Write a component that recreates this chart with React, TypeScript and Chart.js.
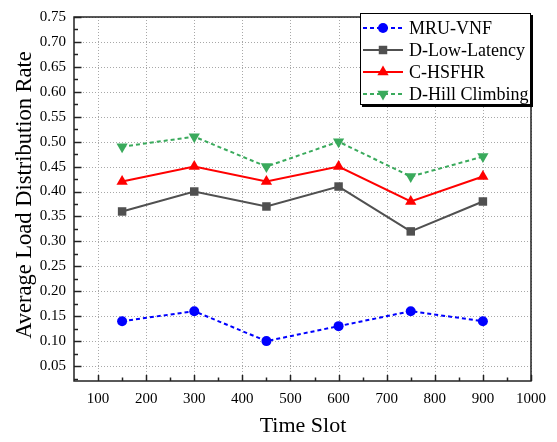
import React, { useEffect, useRef } from "react";
import { Chart, registerables } from "chart.js";

Chart.register(...registerables);

const timeSlots = [150, 300, 450, 600, 750, 900];
const mruVnf = [0.14, 0.16, 0.10, 0.13, 0.16, 0.14];
const dLowLatency = [0.36, 0.40, 0.37, 0.41, 0.32, 0.38];
const cHsfhr = [0.42, 0.45, 0.42, 0.45, 0.38, 0.43];
const dHillClimbing = [0.49, 0.51, 0.45, 0.50, 0.43, 0.47];

const xTickValues = [100, 200, 300, 400, 500, 600, 700, 800, 900, 1000];
const yTickValues = [0.05, 0.10, 0.15, 0.20, 0.25, 0.30, 0.35, 0.40, 0.45, 0.50, 0.55, 0.60, 0.65, 0.70, 0.75];

const seriesNames = ["MRU-VNF", "D-Low-Latency", "C-HSFHR", "D-Hill Climbing"];
const xTitle = "Time Slot";
const yTitle = "Average Load Distribution Rate";

const FONT = "'Liberation Serif', 'Times New Roman', serif";

const W = 557;
const H = 442;
const AREA = { left: 74, top: 12, right: 531, bottom: 381 };

const styles = [
  { color: "#0000ff", dash: [4, 3], point: "circle", radius: 5, rot: 0 },
  { color: "#505050", dash: [], point: "rect", radius: 6, rot: 0 },
  { color: "#ff0000", dash: [], point: "triangle", radius: 6.5, rot: 0 },
  { color: "#3aaa5c", dash: [4, 3], point: "triangle", radius: 6.5, rot: 180 },
];

const seriesData = [mruVnf, dLowLatency, cHsfhr, dHillClimbing];

function drawMarker(ctx: CanvasRenderingContext2D, type: string, rot: number, x: number, y: number, r: number, color: string) {
  ctx.save();
  ctx.fillStyle = color;
  ctx.beginPath();
  if (type === "circle") {
    ctx.arc(x, y, r, 0, Math.PI * 2);
  } else if (type === "rect") {
    const h = r * Math.SQRT1_2;
    ctx.rect(x - h, y - h, h * 2, h * 2);
  } else {
    const d = rot === 180 ? -1 : 1;
    ctx.moveTo(x, y - d * r * 1.0);
    ctx.lineTo(x - r * 0.87, y + d * r * 0.5);
    ctx.lineTo(x + r * 0.87, y + d * r * 0.5);
    ctx.closePath();
  }
  ctx.fill();
  ctx.restore();
}

const decorPlugin = {
  id: "decor",
  beforeDatasetsDraw(chart: any) {
    const ctx = chart.ctx;
    const { left, top, right, bottom } = chart.chartArea;
    const xs = chart.scales.x;
    const ys = chart.scales.y;
    ctx.save();
    ctx.strokeStyle = "#a8a8a8";
    ctx.lineWidth = 1;
    ctx.setLineDash([1, 2]);
    xTickValues.forEach((v) => {
      const px = Math.round(xs.getPixelForValue(v)) + 0.5;
      ctx.beginPath();
      ctx.moveTo(px, bottom);
      ctx.lineTo(px, top);
      ctx.stroke();
    });
    yTickValues.forEach((v) => {
      const py = Math.round(ys.getPixelForValue(v)) + 0.5;
      ctx.beginPath();
      ctx.moveTo(left, py);
      ctx.lineTo(right, py);
      ctx.stroke();
    });
    ctx.setLineDash([]);
    ctx.strokeStyle = "#222";
    ctx.lineWidth = 1.5;
    for (let v = 100; v <= 1000; v += 50) {
      const px = Math.round(xs.getPixelForValue(v)) + 0.5;
      const len = v % 100 === 0 ? 6 : 3.5;
      ctx.beginPath();
      ctx.moveTo(px, bottom);
      ctx.lineTo(px, bottom - len);
      ctx.stroke();
    }
    for (let i = 1; i <= 30; i++) {
      const v = 0.025 * i;
      if (v < 0.02 || v > 0.75) continue;
      const py = Math.round(ys.getPixelForValue(v)) + 0.5;
      const len = i % 2 === 0 ? 7.5 : 4;
      ctx.beginPath();
      ctx.moveTo(left, py);
      ctx.lineTo(left + len, py);
      ctx.stroke();
    }
    ctx.strokeStyle = "#222";
    ctx.lineWidth = 1.5;
    ctx.strokeRect(left, top, right - left, bottom - top);
    ctx.restore();
  },
  afterDraw(chart: any) {
    const ctx = chart.ctx;
    ctx.save();
    ctx.fillStyle = "#000";
    ctx.font = `22px ${FONT}`;
    ctx.textAlign = "center";
    ctx.textBaseline = "middle";
    ctx.fillText(xTitle, 303, 426);
    ctx.translate(25, 195);
    ctx.rotate(-Math.PI / 2);
    ctx.font = `22.5px ${FONT}`;
    ctx.fillText(yTitle, 0, 0);
    ctx.restore();

    ctx.save();
    const lx = 360, ly = 13, lw = 171, lh = 92;
    ctx.fillStyle = "#fff";
    ctx.fillRect(lx, ly, lw, lh);
    ctx.strokeStyle = "#000";
    ctx.lineWidth = 1;
    ctx.strokeRect(lx + 0.5, ly + 0.5, lw - 1, lh - 1);
    ctx.lineWidth = 2;
    ctx.beginPath();
    ctx.moveTo(lx + lw + 1, ly + 2);
    ctx.lineTo(lx + lw + 1, ly + lh + 1);
    ctx.lineTo(lx + 2, ly + lh + 1);
    ctx.stroke();
    const rows = [28, 50, 72, 94];
    styles.forEach((s, i) => {
      const y = rows[i];
      ctx.strokeStyle = s.color;
      ctx.lineWidth = 2;
      ctx.setLineDash(s.dash);
      ctx.beginPath();
      ctx.moveTo(363, y);
      ctx.lineTo(403, y);
      ctx.stroke();
      ctx.setLineDash([]);
      drawMarker(ctx, s.point, s.rot, 383, y, s.radius, s.color);
      ctx.fillStyle = "#000";
      ctx.font = `18px ${FONT}`;
      ctx.textAlign = "left";
      ctx.textBaseline = "middle";
      ctx.fillText(seriesNames[i], 409, y + 1);
    });
    ctx.restore();
  },
};

export default function App() {
  const ref = useRef<HTMLCanvasElement>(null);
  useEffect(() => {
    document.body.style.margin = "0";
    const canvas = ref.current!;
    const chart = new Chart(canvas, {
      type: "line",
      data: {
        datasets: seriesData.map((vals, i) => ({
          label: seriesNames[i],
          data: timeSlots.map((x, j) => ({ x, y: vals[j] })),
          borderColor: styles[i].color,
          backgroundColor: styles[i].color,
          borderWidth: 2,
          borderDash: styles[i].dash,
          pointStyle: styles[i].point as any,
          pointRotation: styles[i].rot,
          pointRadius: styles[i].radius,
          pointBorderWidth: 0,
          fill: false,
          tension: 0,
        })),
      },
      options: {
        responsive: false,
        animation: false,
        events: [],
        layout: {
          padding: { left: 0, top: AREA.top, right: W - AREA.right, bottom: 0 },
        },
        plugins: {
          legend: { display: false },
          tooltip: { enabled: false },
        },
        scales: {
          x: {
            type: "linear",
            min: 50,
            max: 1000,
            afterBuildTicks: (s: any) => {
              s.ticks = xTickValues.map((v) => ({ value: v }));
            },
            afterFit: (s: any) => {
              s.height = H - AREA.bottom;
            },
            ticks: {
              color: "#000",
              font: { family: FONT, size: 15 },
              padding: 9,
              maxRotation: 0,
              autoSkip: false,
              callback: (v: any) => String(v),
            },
            grid: { display: false, drawTicks: false },
            border: { display: false },
          },
          y: {
            type: "linear",
            min: 0.02,
            max: 0.75,
            afterBuildTicks: (s: any) => {
              s.ticks = yTickValues.map((v) => ({ value: v }));
            },
            afterFit: (s: any) => {
              s.width = AREA.left;
            },
            ticks: {
              color: "#000",
              font: { family: FONT, size: 15 },
              padding: 8,
              autoSkip: false,
              callback: (v: any) => Number(v).toFixed(2),
            },
            grid: { display: false, drawTicks: false },
            border: { display: false },
          },
        },
      },
      plugins: [decorPlugin],
    });
    return () => chart.destroy();
  }, []);
  return (
    <div style={{ position: "absolute", left: 0, top: 0, width: W, height: H, background: "#fff" }}>
      <canvas ref={ref} width={W} height={H} style={{ width: W, height: H, display: "block" }} />
    </div>
  );
}
